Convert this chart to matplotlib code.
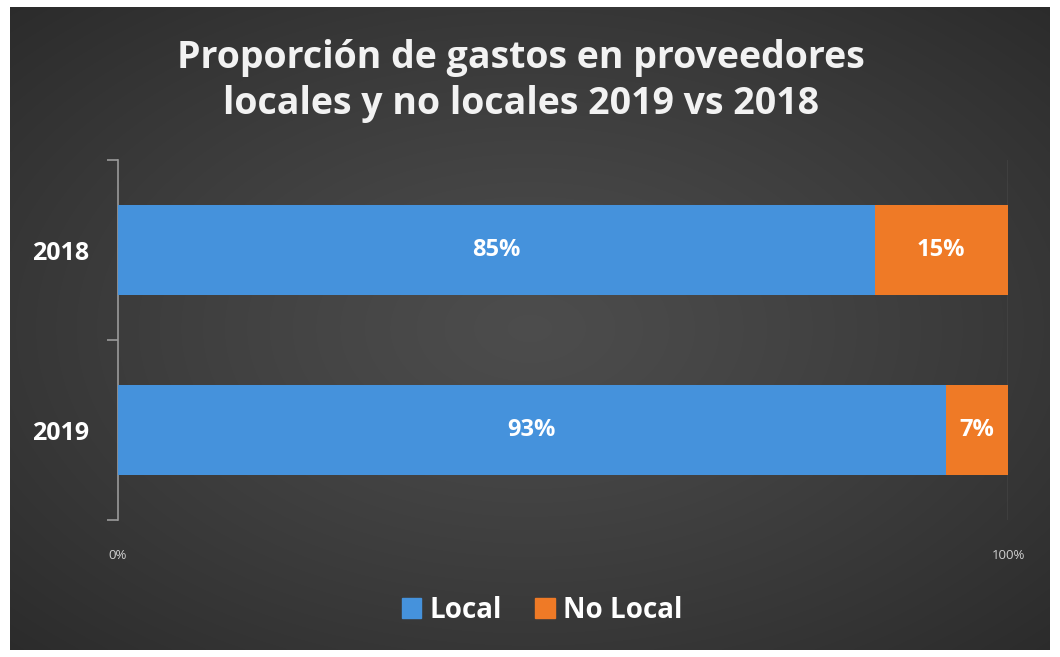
import numpy as np
import matplotlib
matplotlib.use("Agg")
import matplotlib.pyplot as plt
from matplotlib.patches import Patch

years = ["2019", "2018"]
local = [93, 85]
no_local = [7, 15]
series_names = ["Local", "No Local"]
title = "Proporción de gastos en proveedores\nlocales y no locales 2019 vs 2018"
xtick_labels = ["0%", "100%"]

W, H = 1060, 657
fig = plt.figure(figsize=(W / 100, H / 100), dpi=100)
fig.patch.set_facecolor("white")
FONT = ["Open Sans", "DejaVu Sans"]

# background with radial gradient
bg = fig.add_axes([10 / W, 7 / H, 1040 / W, 643 / H])
yy, xx = np.mgrid[0:1:300j, 0:1:500j]
r = np.sqrt(((xx - 0.5) / 0.8) ** 2 + ((yy - 0.5) / 0.8) ** 2)
val = 0.30 - 0.15 * np.clip(r, 0, 1) ** 1.2
img = np.dstack([val, val, val])
bg.imshow(img, aspect="auto", extent=[0, 1, 0, 1], interpolation="bilinear")
bg.set_axis_off()

ax = fig.add_axes([118 / W, 1 - 520 / H, (1008 - 118) / W, 360 / H])
ax.patch.set_alpha(0)
y = np.arange(len(years))
blue = "#4592dc"
orange = "#ef7a26"
h = 0.505
ax.barh(y, local, height=h, color=blue, zorder=3)
ax.barh(y, no_local, left=local, height=h, color=orange, zorder=3)
for i in range(len(years)):
    ax.text(local[i] / 2, y[i], f"{local[i]}%", ha="center", va="center",
            color="white", fontsize=17, fontweight="bold", family=FONT, zorder=4)
    ax.text(local[i] + no_local[i] / 2, y[i], f"{no_local[i]}%", ha="center", va="center",
            color="white", fontsize=17, fontweight="bold", family=FONT, zorder=4)

ax.set_xlim(0, 100)
ax.set_ylim(-0.5, len(years) - 0.5)
ax.set_yticks([-0.5, 0.5, 1.5])
ax.set_yticklabels([])
ax.set_yticks(y, minor=True)
ax.set_yticklabels(years, minor=True, color="white", fontsize=18, fontweight="bold", family=FONT)
ax.tick_params(axis="y", which="major", length=8, color="#9a9a9a", width=1.2)
ax.tick_params(axis="y", which="minor", length=0, pad=21)
ax.set_xticks([0, 100])
ax.set_xticklabels(xtick_labels, color="#d0d0d0", fontsize=9.5, family=FONT)
ax.tick_params(axis="x", length=0, pad=21)
ax.axvline(100, color="#6a6a6a", lw=1, zorder=1)
for s in ["top", "right", "bottom"]:
    ax.spines[s].set_visible(False)
ax.spines["left"].set_color("#9a9a9a")
ax.spines["left"].set_linewidth(1.2)

fig.text(521 / W, 1 - 81 / H, title, ha="center", va="center", color="#f2f2f2",
         fontsize=27, fontweight="bold", family=FONT, linespacing=1.3)

handles = [Patch(color=blue), Patch(color=orange)]
leg = fig.legend(handles, series_names, loc="center", bbox_to_anchor=(542 / W, 1 - 610 / H),
                 ncol=2, frameon=False, handlelength=0.7, handleheight=0.7,
                 handletextpad=0.3, columnspacing=1.2,
                 prop={"size": 20, "weight": "bold", "family": FONT})
for t in leg.get_texts():
    t.set_color("white")

fig.savefig("out.png", dpi=100, facecolor=fig.get_facecolor())
